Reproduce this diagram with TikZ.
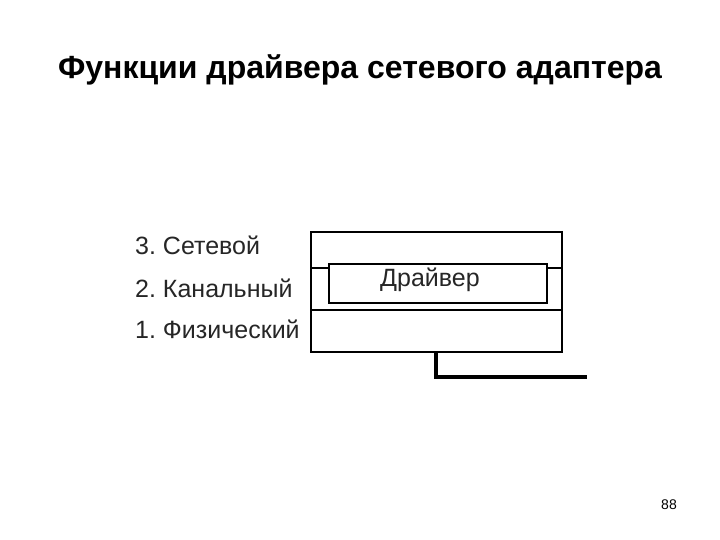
\documentclass[tikz,border=0pt]{standalone}
\usepackage{fontspec}
\setmainfont{Liberation Sans}
\begin{document}
\frenchspacing
\begin{tikzpicture}[x=1pt,y=-1pt,
  frame/.style={draw=black,line width=1.7pt},
  lbl/.style={anchor=west,inner sep=0pt,font=\fontsize{25}{29}\selectfont,text=black!85},
  wire/.style={draw=black,line width=3.4pt}]
\useasboundingbox (0,0) rectangle (720,540);
\node[font=\fontsize{32}{36}\selectfont\bfseries] (title) at (360,70) {Функции драйвера сетевого адаптера};
% layers
\node[lbl] (l3) at (135,245) {3. Сетевой};
\node[lbl] (l2) at (135,288) {2. Канальный};
\node[lbl] (l1) at (135,329) {1. Физический};
% outer stack
\draw[frame] (311,232) rectangle (562,352);
\draw[line width=2.8pt] (562,231) -- (562,353);
\draw[line width=2.4pt] (311,310) -- (562,310);
\draw[frame] (311,268) -- (328,268);
\draw[frame] (546,268) -- (562,268);
\node[frame,line width=1.5pt,minimum width=218pt,minimum height=39pt,inner sep=0pt,anchor=north west] (drv) at (328,263) {};
\node[font=\fontsize{25}{29}\selectfont,text=black!85] (drvt) at (430,280) {Драйвер};
\coordinate (w0) at (436,352);
\coordinate (w1) at (436,377);
\coordinate (w2) at (587,377);
\draw[wire] (w0) -- (w1) -- (w2);
\node[font=\fontsize{14}{16}\selectfont] (pg) at (669,505) {88};
\end{tikzpicture}
\end{document}
